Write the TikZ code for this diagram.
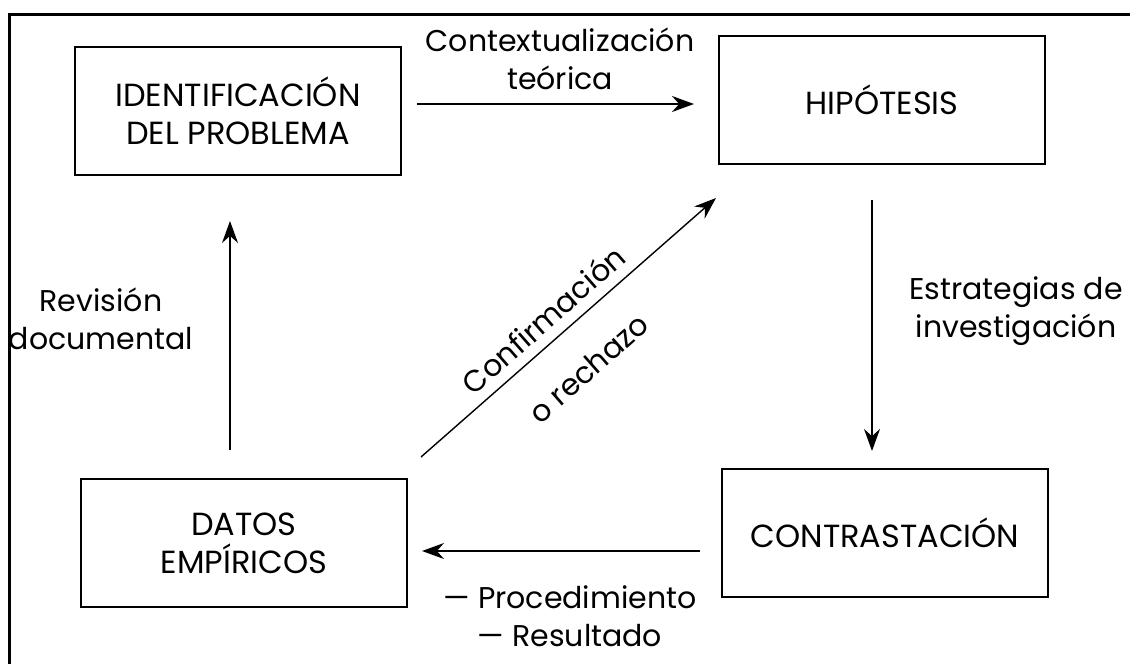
\documentclass[tikz,border=0pt]{standalone}
\usepackage{fontspec}
\setmainfont{Poppins}
\usetikzlibrary{arrows.meta,positioning}
\tikzset{
  caja/.style={draw,line width=1pt,minimum width=163pt,minimum height=64pt,align=center,
    inner sep=0pt,font=\fontsize{16}{19}\selectfont},
  etiqueta/.style={align=center,inner sep=0pt,font=\fontsize{15}{19}\selectfont},
  flecha/.style={line width=0.7pt,-{Stealth[length=11pt,width=8pt]}}
}
\begin{document}
\begin{tikzpicture}[x=0.5pt,y=-0.5pt]
            \useasboundingbox (0,0) rectangle (1130,664);
            \draw[line width=1.5pt] (9,664) -- (9,14) -- (1130,14); % marco
            % cajas
            \node[caja] (idp) at (238,111) {IDENTIFICACIÓN\\DEL PROBLEMA};
            \node[caja] (hip) at (882,100) {HIPÓTESIS};
            \node[caja] (con) at (885,533) {CONTRASTACIÓN};
            \node[caja] (dat) at (244,543) {DATOS\\EMPÍRICOS};
            % flechas
            \draw[flecha] ([xshift=7.5pt,yshift=3.5pt]idp.east) -- ([xshift=-12pt,yshift=-2pt]hip.west);
            \draw[flecha] ([xshift=-5pt,yshift=-17.5pt]hip.south) -- ([xshift=-6.5pt,yshift=8.5pt]con.north);
            \draw[flecha] ([xshift=-10.5pt,yshift=-9pt]con.west) -- ([xshift=7pt,yshift=-4pt]dat.east);
            \draw[flecha] ([xshift=-7pt,yshift=14pt]dat.north) -- ([xshift=-4pt,yshift=-22.5pt]idp.south);
            \draw[flecha] ([xshift=6.5pt,yshift=10.5pt]dat.north east) -- ([xshift=-1pt,yshift=-16.5pt]hip.south west)
                node[etiqueta,pos=0.465,sloped,above=5pt] (cnf) {Confirmación}
                node[etiqueta,pos=0.47,sloped,below=16pt] (rch) {o rechazo};
            % etiquetas
            \node[etiqueta] (ctx) at (560,59) {Contextualización\\teórica};
            \node[etiqueta] (est) at (1016,311) {Estrategias de\\investigación};
            \node[etiqueta] (pro) at (570,616) {— Procedimiento\\— Resultado};
            \node[etiqueta] (rev) at (101,319) {Revisión\\documental};
\end{tikzpicture}
\end{document}
